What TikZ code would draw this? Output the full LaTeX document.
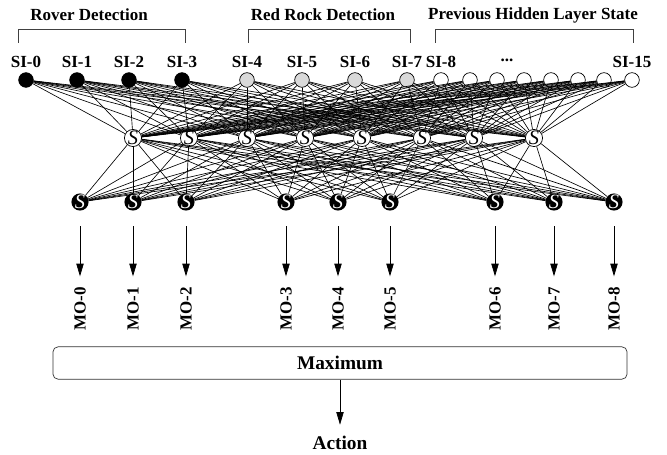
\documentclass[tikz,border=0pt]{standalone}
\usepackage{fontspec}
\setmainfont{Liberation Serif}
\usetikzlibrary{positioning,arrows.meta,calc}

\tikzset{
  lbl/.style={font=\bfseries\fontsize{14.5}{17}\selectfont},
  big/.style={font=\bfseries\fontsize{16.5}{19}\selectfont},
  inp/.style={circle,draw,line width=0.6pt,minimum size=0.44cm,inner sep=0pt},
  hid/.style={circle,draw,fill=white,line width=0.6pt,minimum size=0.5cm,inner sep=0pt,
    font=\itshape\fontsize{17.5}{17.5}\selectfont},
  outp/.style={circle,fill=black,text=white,minimum size=0.5cm,inner sep=0pt,
    font=\itshape\fontsize{17.5}{17.5}\selectfont},
  net/.style={line width=0.55pt},
  brk/.style={line width=0.6pt,black!75},
  arr/.style={line width=0.6pt,-{Triangle[length=0.38cm,width=0.22cm]}}
}

\begin{document}
\begin{tikzpicture}[x=0.03cm,y=-0.03cm]
    \useasboundingbox (0,0) rectangle (667,455);
    % group titles
    \node[lbl] (rov) at (89,15) {Rover Detection};
    \node[lbl] (red) at (323,15) {Red Rock Detection};
    \node[lbl] (prev) at (533,15) {Previous Hidden Layer State};
    \draw[brk] (18,43) |- (185,29) -- (185,43);
    \draw[brk] (248,43) |- (410,29) -- (410,43);
    \draw[brk] (435,43) |- (633,29) -- (633,43);
    % input layer
    \foreach \x/\c [count=\i from 0] in {26/black,77/black,129/black,182/black,
        247/gray!30,302/gray!30,355/gray!30,407/gray!30,441/white,470/white,
        497/white,524/white,551/white,578/white,604/white,632/white}
      \node[inp,fill=\c] (I\i) at (\x,80) {};
    \foreach \i in {0,...,8,15}
      \node[lbl,above=0.02cm of I\i] (SI\i) {SI-\i};
    \node[lbl] (dots) at (507,60) {...};
    % hidden layer
    \foreach \x [count=\j] in {133,189,247,305,362,422,474,534}
      \node[hid] (H\j) at (\x,138) {S};
    % output layer
    \foreach \x [count=\k from 0] in {80,133,186,286,338,390,495,554,614}
      \node[outp] (O\k) at (\x,202) {S};
    % connections
    \foreach \i in {0,...,15}
      \foreach \j in {1,...,8}
        \draw[net] (I\i) -- (H\j);
    \foreach \j in {1,...,8}
      \foreach \k in {0,...,8}
        \draw[net] (H\j) -- (O\k);
    % outputs
    \foreach \k in {0,...,8} {
      \node[lbl,rotate=90,anchor=east] (MO\k) at ($(O\k)+(0,81)$) {MO-\k};
      \draw[arr,shorten <=0.47cm,shorten >=0.2cm] (O\k) -- (MO\k);
    }
    \node[big,draw,black!80,text=black,line width=0.6pt,rounded corners=0.15cm,
      minimum width=17.22cm,minimum height=0.97cm] (max) at (340,363) {Maximum};
    \node[big] (act) at (340,443) {Action};
    \draw[arr,shorten >=0.22cm] (max) -- (act);
\end{tikzpicture}
\end{document}
